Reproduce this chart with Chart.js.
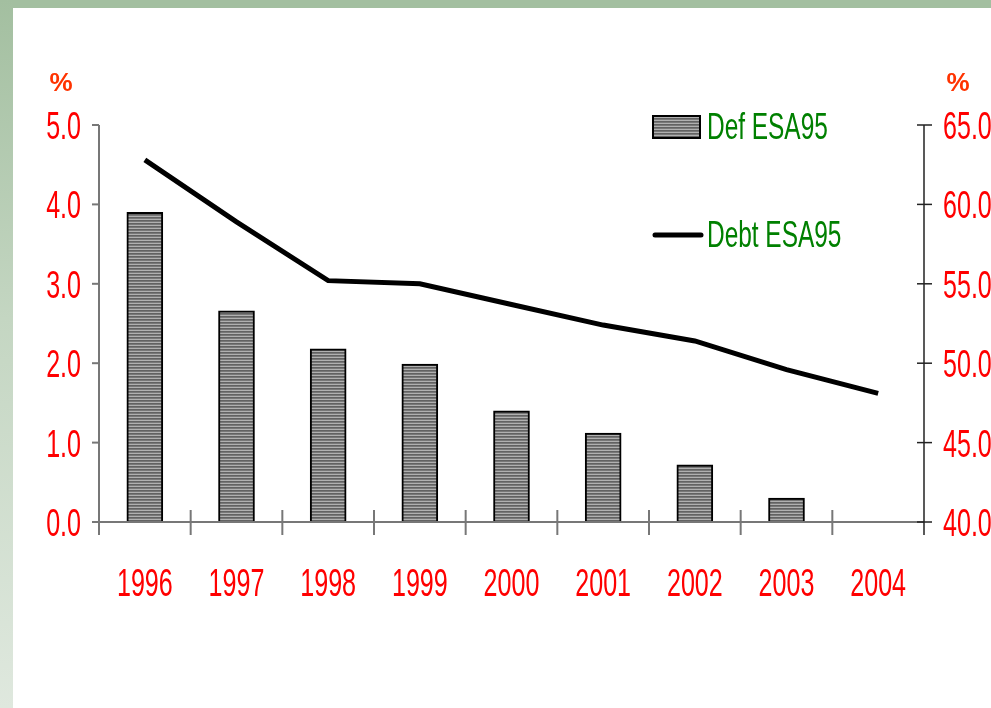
<!DOCTYPE html>
<html>
<head>
<meta charset="utf-8">
<script src="https://cdn.jsdelivr.net/npm/chart.js@4"></script>
<style>
  html, body { margin: 0; padding: 0; background: #fff; }
  #wrap { position: relative; width: 991px; height: 708px; overflow: hidden; background: #fff; }
  #topband { position: absolute; left: 0; top: 0; width: 991px; height: 8px; background: #a3bfa0; }
  #leftband { position: absolute; left: 0; top: 0; width: 13px; height: 708px;
    background: linear-gradient(to bottom, #a3bfa0 0%, #c4d6c2 45%, #dfe8de 100%); }
  #chart1 { position: absolute; left: 0; top: 0; }
</style>
</head>
<body>
<div id="wrap">
  <div id="topband"></div>
  <div id="leftband"></div>
  <canvas id="chart1" width="991" height="708"></canvas>
</div>
<script>
var years = ["1996", "1997", "1998", "1999", "2000", "2001", "2002", "2003", "2004"];
var deficit = [3.9, 2.66, 2.18, 1.99, 1.4, 1.12, 0.72, 0.3, null];
var debt = [62.8, 58.9, 55.2, 55.0, 53.7, 52.4, 51.4, 49.6, 48.1];
var leftTicks = [0, 1, 2, 3, 4, 5];
var rightTicks = [40, 45, 50, 55, 60, 65];

var font = "'Liberation Sans', Arial, sans-serif";
var squeeze = 0.66; // the original uses a narrow face
var red = "#ff0000";
var green = "#008000";

function stripePattern(ctx) {
  var c = document.createElement("canvas");
  c.width = 4;
  c.height = 3;
  var p = c.getContext("2d");
  p.fillStyle = "#b0b0b0";
  p.fillRect(0, 0, 4, 1);
  p.fillStyle = "#626262";
  p.fillRect(0, 1, 4, 1);
  p.fillStyle = "#787878";
  p.fillRect(0, 2, 4, 1);
  return ctx.createPattern(c, "repeat");
}

var ctx = document.getElementById("chart1").getContext("2d");
var stripes = stripePattern(ctx);

function narrowText(c, text, x, y, align) {
  c.save();
  c.translate(x, y);
  c.scale(squeeze, 1);
  c.textAlign = align;
  c.fillText(text, 0, 0);
  c.restore();
}

// axes, tick marks, labels, % signs and legend drawn by hand
var decorPlugin = {
  id: "decor",
  afterDraw: function (chart) {
    var c = chart.ctx;
    var x = chart.scales.x;
    var y = chart.scales.y;
    var y1 = chart.scales.y1;
    var area = chart.chartArea;
    c.save();

    c.strokeStyle = "#777777";
    c.lineWidth = 2;
    c.beginPath();
    c.moveTo(area.left, area.top);
    c.lineTo(area.left, area.bottom + 13);
    c.moveTo(area.left - 6, area.bottom);
    c.lineTo(area.right, area.bottom);
    c.stroke();

    leftTicks.forEach(function (v) {
      var py = y.getPixelForValue(v);
      c.beginPath();
      c.moveTo(area.left - 7, py);
      c.lineTo(area.left, py);
      c.stroke();
    });

    for (var i = 1; i < years.length; i++) {
      var bx = (x.getPixelForValue(i - 1) + x.getPixelForValue(i)) / 2;
      c.beginPath();
      c.moveTo(bx, area.bottom - 12);
      c.lineTo(bx, area.bottom + 13);
      c.stroke();
    }

    c.strokeStyle = "#222222";
    c.lineWidth = 1.5;
    c.beginPath();
    c.moveTo(area.right, area.top);
    c.lineTo(area.right, area.bottom + 13);
    c.stroke();
    rightTicks.forEach(function (v) {
      var py = y1.getPixelForValue(v);
      c.beginPath();
      c.moveTo(area.right - 7, py);
      c.lineTo(area.right + 8, py);
      c.stroke();
    });

    // tick labels
    c.fillStyle = red;
    c.font = "38px " + font;
    c.textBaseline = "alphabetic";
    leftTicks.forEach(function (v) {
      narrowText(c, v.toFixed(1), 81, y.getPixelForValue(v) + 14, "right");
    });
    rightTicks.forEach(function (v) {
      narrowText(c, v.toFixed(1), 943, y1.getPixelForValue(v) + 14, "left");
    });
    years.forEach(function (label, i) {
      narrowText(c, label, x.getPixelForValue(i), 596, "center");
    });

    c.fillStyle = "#ff3300";
    c.font = "bold 26px " + font;
    c.textAlign = "center";
    c.fillText("%", 61, 91);
    c.fillText("%", 958, 91);

    // legend
    c.fillStyle = stripes;
    c.fillRect(653, 116, 47, 22);
    c.strokeStyle = "#000";
    c.lineWidth = 2;
    c.strokeRect(653, 116, 47, 22);
    c.beginPath();
    c.lineWidth = 5;
    c.lineCap = "round";
    c.moveTo(655, 235);
    c.lineTo(701, 235);
    c.stroke();

    c.fillStyle = green;
    c.font = "37px " + font;
    narrowText(c, "Def ESA95", 707, 139, "left");
    narrowText(c, "Debt ESA95", 707, 247, "left");
    c.restore();
  }
};

new Chart(ctx, {
  type: "bar",
  data: {
    labels: years,
    datasets: [
      {
        type: "line",
        label: "Debt ESA95",
        data: debt,
        yAxisID: "y1",
        borderColor: "#000000",
        borderWidth: 5,
        pointRadius: 0,
        tension: 0,
        order: 0,
      },
      {
        type: "bar",
        label: "Def ESA95",
        data: deficit,
        yAxisID: "y",
        backgroundColor: stripes,
        borderColor: "#000000",
        borderWidth: 2,
        barThickness: 36,
        order: 1,
      },
    ],
  },
  options: {
    responsive: false,
    animation: false,
    layout: { padding: { top: 125, left: 0, right: 0, bottom: 0 } },
    plugins: {
      legend: { display: false },
      tooltip: { enabled: false },
    },
    scales: {
      x: {
        grid: { display: false, drawTicks: false },
        border: { display: false },
        ticks: { display: false },
        afterFit: function (s) { s.height = 186; },
      },
      y: {
        position: "left",
        min: 0,
        max: 5,
        grid: { display: false, drawTicks: false },
        border: { display: false },
        ticks: { display: false, stepSize: 1 },
        afterFit: function (s) { s.width = 99; },
      },
      y1: {
        position: "right",
        min: 40,
        max: 65,
        grid: { display: false, drawTicks: false },
        border: { display: false },
        ticks: { display: false, stepSize: 5 },
        afterFit: function (s) { s.width = 67; },
      },
    },
  },
  plugins: [decorPlugin],
});
</script>
</body>
</html>
